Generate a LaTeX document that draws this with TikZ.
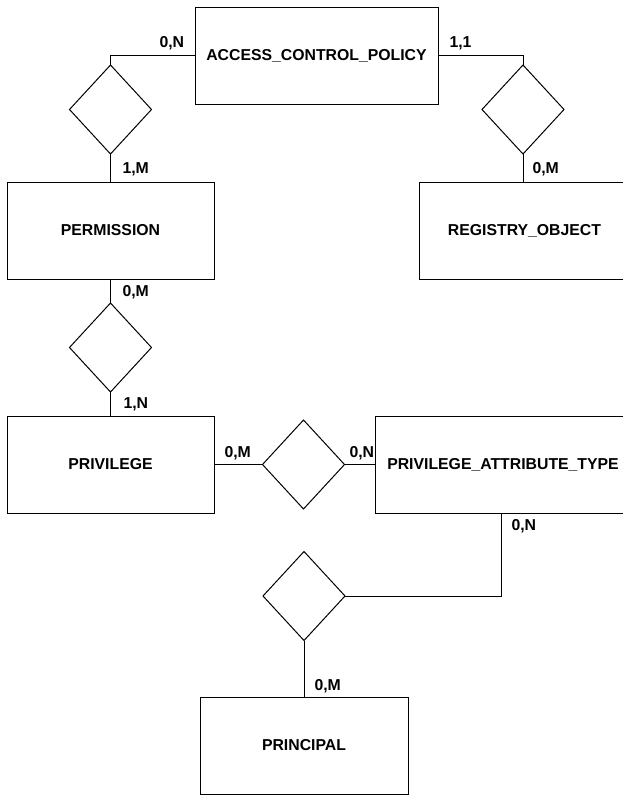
\documentclass[tikz,border=0pt]{standalone}
\usepackage{fontspec}
\setmainfont{Liberation Sans}
\usepackage{tikz}
\usetikzlibrary{positioning, shapes.geometric}

\begin{document}
\begin{tikzpicture}[
    x=1pt, y=-1pt,
    font=\fontsize{15.8}{18}\selectfont\bfseries,
    line width=1pt,
    entity/.style={
        rectangle,
        draw=black,
        fill=white,
        minimum height=97pt,
        inner sep=0pt,
        outer sep=0pt
    },
    relation/.style={
        diamond,
        draw=black,
        fill=white,
        minimum width=82pt,
        minimum height=89pt,
        inner sep=0pt,
        outer sep=0pt
    },
    card/.style={anchor=base west, inner sep=0pt}
]

\clip (0,0) rectangle (623,795);
\fill[white] (0,0) rectangle (623,795);

%% ENTITIES %%
\node (acp) [entity, minimum width=243pt] at (316.5,55.5) {ACCESS\_CONTROL\_POLICY};
\node (permission) [entity, minimum width=207pt] at (110.5,230.5) {PERMISSION};
\node (regobj) [entity, minimum width=211pt] at (524.5,230.5) {REGISTRY\_OBJECT};
\node (privilege) [entity, minimum width=207pt] at (110.5,464.5) {PRIVILEGE};
\node (pat) [entity, minimum width=256pt] at (503,464.5) {PRIVILEGE\_ATTRIBUTE\_TYPE};
\node (principal) [entity, minimum width=208pt] at (304,745.5) {PRINCIPAL};

%% RELATIONSHIPS %%
\node (acp_perm) [relation] at (110.5,109.5) {};
\node (acp_reg) [relation] at (523,109.5) {};
\node (perm_priv) [relation, below=24pt of permission] {};
\node (priv_pat) [relation, right=48.5pt of privilege] {};
\node (pat_princ) [relation] at (304,596) {};

%% CONNECTORS %%
\draw (acp.west) -| (acp_perm.north);
\draw (acp_perm.south) -- (permission.north);
\draw (acp.east) -| (acp_reg.north);
\draw (acp_reg.south) -- (acp_reg.south |- regobj.north);
\draw (permission.south) -- (perm_priv.north);
\draw (perm_priv.south) -- (privilege.north);
\draw (privilege.east) -- (priv_pat.west);
\draw (priv_pat.east) -- (pat.west);
\draw ([xshift=-2pt]pat.south) |- (pat_princ.east);
\draw (pat_princ.south) -- (principal.north);

%% CARDINALITIES %%
\node (c_acp_l) [card] at (159,47) {0,N};
\node (c_perm_t) [card] at (122,173) {1,M};
\node (c_acp_r) [card] at (449,47) {1,1};
\node (c_reg_t) [card] at (532,173) {0,M};
\node (c_perm_b) [card] at (122,296) {0,M};
\node (c_priv_t) [card] at (123,408) {1,N};
\node (c_priv_r) [card] at (224,457) {0,M};
\node (c_pat_l) [card] at (349,457) {0,N};
\node (c_pat_b) [card] at (511,530) {0,N};
\node (c_princ_t) [card] at (314,690) {0,M};

\end{tikzpicture}
\end{document}
